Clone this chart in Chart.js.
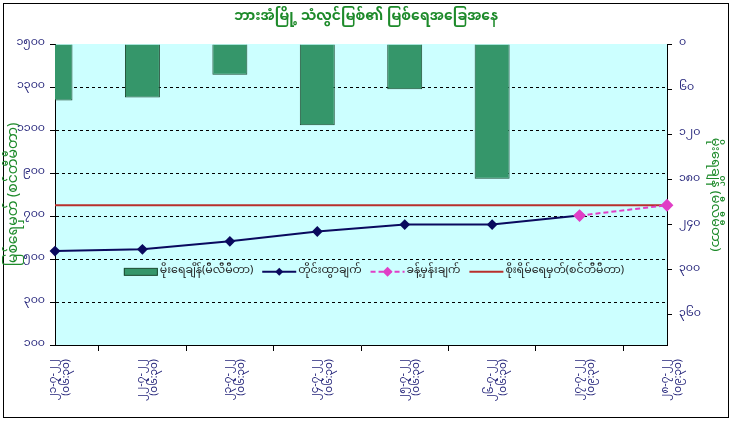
<!DOCTYPE html>
<html>
<head>
<meta charset="utf-8">
<script src="https://cdn.jsdelivr.net/npm/chart.js@4.4.1/dist/chart.umd.min.js"></script>
<style>
  html, body { margin:0; padding:0; background:#fff; }
  #c { display:block; }
</style>
</head>
<body>
<canvas id="c" width="732" height="421"></canvas>
<script>
// data
const dates = ["၂၁-၇-၂၂","၂၂-၇-၂၂","၂၃-၇-၂၂","၂၄-၇-၂၂","၂၅-၇-၂၂","၂၆-၇-၂၂","၂၇-၇-၂၂","၂၈-၇-၂၂"];
const times = ["(၀၆:၃၀)","(၀၆:၃၀)","(၀၆:၃၀)","(၀၆:၃၀)","(၀၆:၃၀)","(၀၆:၃၀)","(၀၉:၃၀)","(၀၉:၃၀)"];
const rainfall = [75, 71, 41, 108, 60, 179, null, null];
const measured = [537, 545, 582, 628, 660, 660, 702, null];
const forecast = [null, null, null, null, null, null, 702, 750];
const danger   = [750, 750, 750, 750, 750, 750, 750, 750];
const levelTicks = [100, 300, 500, 700, 900, 1100, 1300, 1500];
const rainTicks  = [0, 60, 120, 180, 240, 300, 360];

const FONT = "'Noto Sans Myanmar','Myanmar Text',Padauk,'Noto Sans','DejaVu Sans',sans-serif";
const NAVY_TXT = "#24247a";
const GREEN_TXT = "#1d8a2a";

const mmDigits = n => String(n).replace(/\d/g, d => "၀၁၂၃၄၅၆၇၈၉"[d]);

// frame, plot background and legend inside the plot area
const decor = {
  id: "decor",
  beforeDraw(chart) {
    const { ctx, chartArea: a } = chart;
    ctx.save();
    ctx.fillStyle = "#fff";
    ctx.fillRect(0, 0, chart.width, chart.height);
    ctx.strokeStyle = "#000";
    ctx.lineWidth = 1;
    ctx.strokeRect(3.5, 3.5, chart.width - 7, chart.height - 7);
    ctx.fillStyle = "#ccffff";
    ctx.fillRect(a.left, a.top, a.right - a.left, a.bottom - a.top);
    ctx.restore();
  },
  afterDatasetsDraw(chart) {
    const { ctx, chartArea: a } = chart;
    const ds = chart.data.datasets;
    const y = a.top + (a.bottom - a.top) * 0.757;
    const sw = 34, gap = 2, space = 9;
    ctx.save();
    ctx.font = "11px " + FONT;
    ctx.textBaseline = "middle";
    const widths = ds.map(d => sw + gap + ctx.measureText(d.label).width);
    const total = widths.reduce((s, w) => s + w, 0) + space * (ds.length - 1);
    let x = (a.left + a.right) / 2 + 13 - total / 2;
    ds.forEach((d, i) => {
      if (d.type === "bar") {
        ctx.fillStyle = d.backgroundColor;
        ctx.strokeStyle = d.borderColor;
        ctx.fillRect(x, y - 3.5, sw, 7);
        ctx.strokeRect(x + 0.5, y - 3.5, sw - 1, 7);
      } else {
        ctx.strokeStyle = d.borderColor;
        ctx.lineWidth = d.borderWidth;
        ctx.setLineDash(d.borderDash || []);
        ctx.beginPath(); ctx.moveTo(x, y); ctx.lineTo(x + sw, y); ctx.stroke();
        ctx.setLineDash([]);
        if (d.pointRadius > 0) {
          const r = d.pointRadius;
          ctx.fillStyle = d.pointBackgroundColor;
          ctx.beginPath();
          ctx.moveTo(x + sw / 2, y - r); ctx.lineTo(x + sw / 2 + r, y);
          ctx.lineTo(x + sw / 2, y + r); ctx.lineTo(x + sw / 2 - r, y);
          ctx.closePath(); ctx.fill();
        }
      }
      ctx.fillStyle = "#222";
      ctx.fillText(d.label, x + sw + gap, y);
      x += widths[i] + space;
    });
    ctx.restore();
  }
};

new Chart(document.getElementById("c"), {
  data: {
    labels: dates.map((d, i) => [d, times[i]]),
    datasets: [
      { type: "bar", label: "မိုးရေချိန်(မီလီမီတာ)", data: rainfall, yAxisID: "yRain",
        backgroundColor: "#35966a", borderColor: "#1c4a30", borderWidth: 1,
        barPercentage: 0.5, categoryPercentage: 0.8, order: 4 },
      { type: "line", label: "တိုင်းထွာချက်", data: measured, yAxisID: "yLevel",
        borderColor: "#0a0a5e", borderWidth: 2, pointStyle: "rectRot", pointRadius: 4,
        pointBackgroundColor: "#0a0a5e", pointBorderColor: "#0a0a5e", tension: 0, order: 2 },
      { type: "line", label: "ခန့်မှန်းချက်", data: forecast, yAxisID: "yLevel",
        borderColor: "#e03fc6", borderWidth: 2, borderDash: [5, 3], pointStyle: "rectRot", pointRadius: 5,
        pointBackgroundColor: "#e03fc6", pointBorderColor: "#e03fc6", tension: 0, order: 1 },
      { type: "line", label: "စိုးရိမ်ရေမှတ်(စင်တီမီတာ)", data: danger, yAxisID: "yLevel",
        borderColor: "#b8302c", borderWidth: 2, pointRadius: 0, tension: 0, order: 3 }
    ]
  },
  options: {
    responsive: false,
    animation: false,
    layout: { padding: 0 },
    plugins: {
      legend: { display: false },
      tooltip: { enabled: false },
      title: {
        display: true,
        text: "ဘားအံမြို့ သံလွင်မြစ်၏ မြစ်ရေအခြေအနေ",
        color: GREEN_TXT,
        font: { family: FONT, size: 14, weight: "bold", lineHeight: 1.2 },
        padding: { top: 10, bottom: 17.2 }
      }
    },
    scales: {
      x: {
        type: "category",
        offset: false,
        grid: { drawOnChartArea: false, color: "#000", tickLength: 6, tickBorderDash: [] },
        border: { color: "#000", width: 1 },
        ticks: { color: NAVY_TXT, autoSkip: false, maxRotation: 90, minRotation: 90, padding: 8,
                 font: { family: FONT, size: 10.5, lineHeight: 1.25 } },
        afterFit(s) { s.height = 76; }
      },
      yLevel: {
        type: "linear", position: "left",
        min: 100, max: 1500,
        afterBuildTicks(s) { s.ticks = levelTicks.map(v => ({ value: v })); },
        ticks: { color: NAVY_TXT, padding: 5, font: { family: FONT, size: 11 }, callback: v => mmDigits(v) },
        grid: {
          color: ctx => (ctx.tick && (ctx.tick.value === 1500 || ctx.tick.value === 100)) ? "rgba(0,0,0,0)" : "#000",
          tickColor: "#000", tickLength: 5, tickBorderDash: [], lineWidth: 1
        },
        border: { color: "#000", width: 1, dash: [3, 3] },
        title: { display: true, text: "မြစ်ရေမှတ် (စင်တီမီတာ)", color: GREEN_TXT, padding: { top: 8, bottom: 0 },
                 font: { family: FONT, size: 14, lineHeight: 1.1 } },
        afterFit(s) { s.width = 55; }
      },
      yRain: {
        type: "linear", position: "right", reverse: true,
        min: 0, max: 400,
        afterBuildTicks(s) { s.ticks = rainTicks.map(v => ({ value: v })); },
        ticks: { color: NAVY_TXT, padding: 7, font: { family: FONT, size: 11 }, callback: v => mmDigits(v) },
        grid: { drawOnChartArea: false, color: "#000", tickLength: 5, tickBorderDash: [] },
        border: { color: "#000", width: 1 },
        title: { display: true, text: "မိုးရေချိန် (မီလီမီတာ)", color: GREEN_TXT, padding: { top: 11, bottom: 0 },
                 font: { family: FONT, size: 13, lineHeight: 1.1 } },
        afterFit(s) { s.width = 65; }
      }
    }
  },
  plugins: [decor]
});
</script>
</body>
</html>
